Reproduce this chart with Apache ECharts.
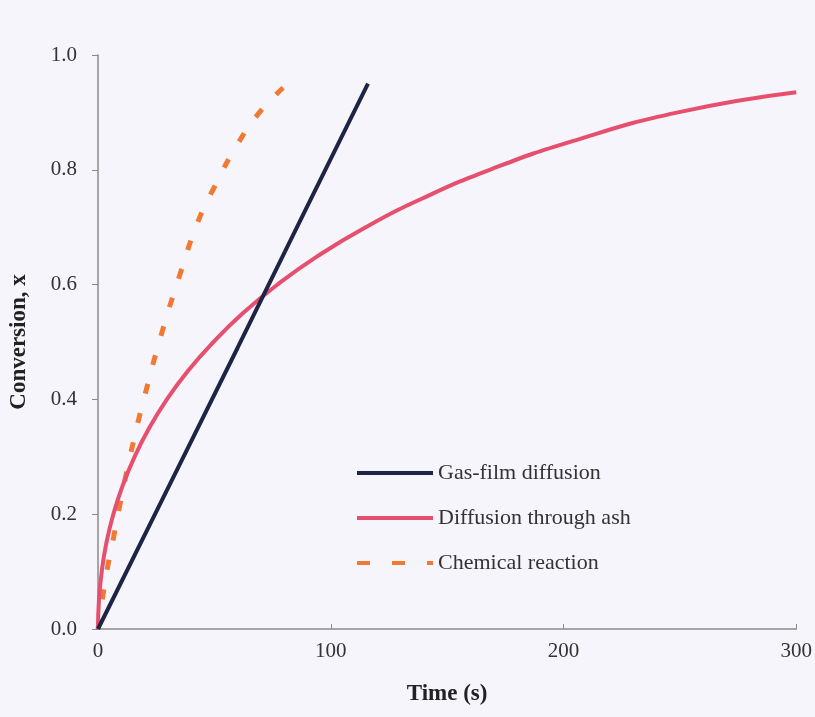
<!DOCTYPE html>
<html>
<head>
<meta charset="utf-8">
<script src="https://cdn.jsdelivr.net/npm/echarts@6/dist/echarts.min.js"></script>
<style>
html,body{margin:0;padding:0;background:#f5f5fb;}
#chart{width:815px;height:717px;}
</style>
</head>
<body>
<div id="chart"></div>
<script>
// Time (s) values and conversion values
var gasFilmTime = [0, 30, 60, 90, 116];
var gasFilmConv = [0, 0.245, 0.49, 0.737, 0.95];

var ashTime = [0, 0.4, 1.6, 3.6, 6.6, 10.6, 15.7, 22, 29.6, 38.7, 49.6, 62.2, 77.1, 94.5, 115, 139.3, 168.3, 203.9, 249.2, 300];
var ashConv = [0, 0.05, 0.1, 0.15, 0.2, 0.25, 0.3, 0.35, 0.4, 0.45, 0.5, 0.55, 0.6, 0.65, 0.7, 0.75, 0.8, 0.85, 0.9, 0.935];

var chemTime = [0, 2, 4, 6.7, 9.1, 14, 20, 27, 35, 43, 50, 60, 70, 81.5];
var chemConv = [0, 0.055, 0.105, 0.16, 0.21, 0.305, 0.405, 0.51, 0.615, 0.71, 0.77, 0.845, 0.903, 0.95];

var seriesNames = ['Gas-film diffusion', 'Diffusion through ash', 'Chemical reaction'];
var xTicks = [0, 100, 200, 300];
var yTicks = [0, 0.2, 0.4, 0.6, 0.8, 1.0];

function pairs(xs, ys) { return xs.map(function (x, i) { return [x, ys[i]]; }); }

var serif = '"Liberation Serif", "Times New Roman", serif';
var solidIcon = 'path://M0,0h76v4h-76z';
var dashIcon = 'path://M0,0h13v4h-13z M35,0h13v4h-13z M70,0h6v4h-6z';

var chart = echarts.init(document.getElementById('chart'));
chart.setOption({
  backgroundColor: '#f5f5fb',
  animation: false,
  grid: { left: 97, right: 18, top: 55, bottom: 88, containLabel: false },
  xAxis: {
    type: 'value', min: xTicks[0], max: xTicks[xTicks.length - 1], interval: 100,
    name: 'Time (s)', nameLocation: 'middle', nameGap: 54,
    nameTextStyle: { fontFamily: serif, fontWeight: 'bold', fontSize: 23, color: '#222' },
    axisLine: { lineStyle: { color: '#8a8a8a', width: 1.5 } },
    axisTick: { show: true, inside: true, length: 5, lineStyle: { color: '#8a8a8a' } },
    axisLabel: { fontFamily: serif, fontSize: 21, color: '#333', margin: 12 },
    splitLine: { show: false }
  },
  yAxis: {
    type: 'value', min: yTicks[0], max: yTicks[yTicks.length - 1], interval: 0.2,
    name: 'Conversion, x', nameLocation: 'middle', nameGap: 67, nameRotate: 90,
    nameTextStyle: { fontFamily: serif, fontWeight: 'bold', fontSize: 23, color: '#222' },
    axisLine: { show: true, lineStyle: { color: '#8a8a8a', width: 1.5 } },
    axisTick: { show: true, inside: false, length: 6, lineStyle: { color: '#8a8a8a' } },
    axisLabel: { fontFamily: serif, fontSize: 21, color: '#333', margin: 21,
      formatter: function (v) { return v.toFixed(1); } },
    splitLine: { show: false }
  },
  legend: {
    orient: 'vertical', left: 352, top: 456,
    itemWidth: 76, itemHeight: 4, itemGap: 21,
    data: [
      { name: seriesNames[0], icon: solidIcon },
      { name: seriesNames[1], icon: solidIcon },
      { name: seriesNames[2], icon: dashIcon }
    ],
    textStyle: { fontFamily: serif, fontSize: 22, color: '#333', lineHeight: 24 }
  },
  series: [
    { name: seriesNames[0], type: 'line', data: pairs(gasFilmTime, gasFilmConv), showSymbol: false, symbol: 'none',
      lineStyle: { color: '#1d2446', width: 4 }, itemStyle: { color: '#1d2446' }, z: 3 },
    { name: seriesNames[1], type: 'line', data: pairs(ashTime, ashConv), showSymbol: false, symbol: 'none', smooth: true,
      lineStyle: { color: '#e6506e', width: 4 }, itemStyle: { color: '#e6506e' }, z: 2 },
    { name: seriesNames[2], type: 'line', data: pairs(chemTime, chemConv), showSymbol: false, symbol: 'none', smooth: true,
      lineStyle: { color: '#f07a34', width: 5, type: [10, 20] }, itemStyle: { color: '#f07a34' }, z: 1 }
  ]
});
</script>
</body>
</html>
